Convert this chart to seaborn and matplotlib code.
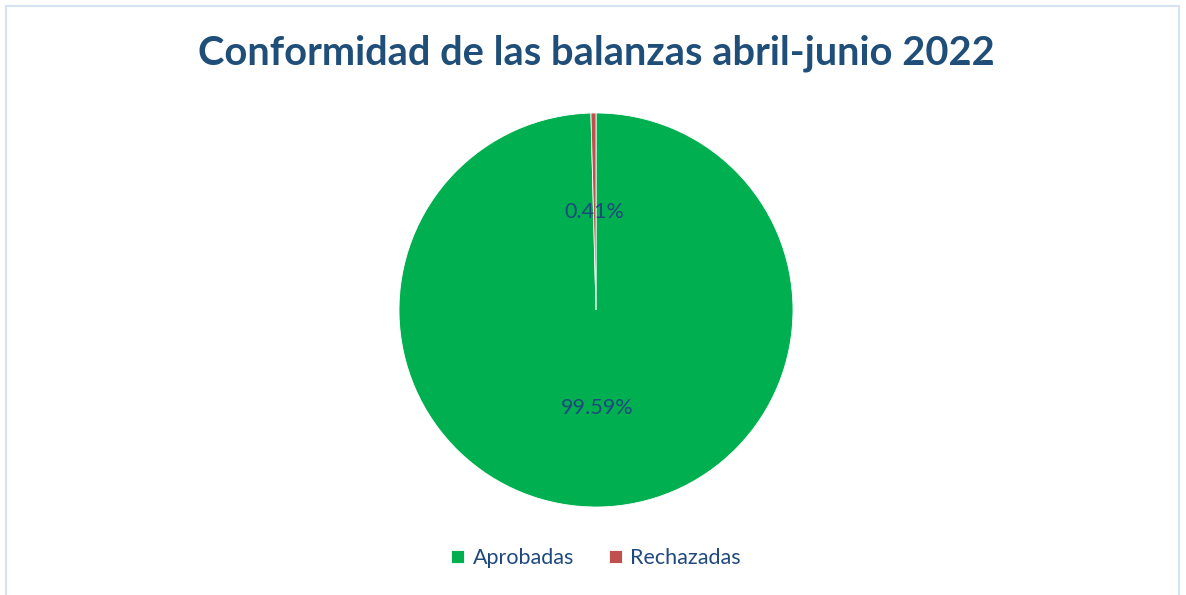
import matplotlib
matplotlib.use("Agg")
import matplotlib.pyplot as plt
import seaborn as sns
from matplotlib.patches import Rectangle

categories = ["Aprobadas", "Rechazadas"]
values = [99.59, 0.41]
colors = ["#00B050", "#C0504D"]
title = "Conformidad de las balanzas abril-junio 2022"

sns.set_theme(style="white")
plt.rcParams["font.family"] = ["Lato", "DejaVu Sans"]

W, H = 1186, 595
fig = plt.figure(figsize=(W / 100, H / 100), dpi=100)

# light frame like the Excel chart area
fig.add_artist(Rectangle((6 / W, -0.01), (W - 7) / W - 6 / W, 1.01 - 6 / H,
                         transform=fig.transFigure, fill=False,
                         edgecolor="#D6E3F3", linewidth=1.5))

r = 197
ax = fig.add_axes([(596 - r) / W, (H - 310 - r) / H, 2 * r / W, 2 * r / H])
wedges, _, autotexts = ax.pie(
    values, colors=colors, startangle=90, counterclock=False,
    autopct="%.2f%%", pctdistance=0.5,
    wedgeprops=dict(edgecolor="white", linewidth=0.6),
    textprops=dict(color="#1F497D", fontsize=15.5),
)
ax.set_aspect("equal")
ax.set_xlim(-1, 1)
ax.set_ylim(-1, 1)

fig.text(596 / W, 1 - 53 / H, title, ha="center", va="center",
         fontsize=28.7, fontweight="bold", color="#1F4E79")

fig.legend(wedges, categories, loc="center", bbox_to_anchor=(596 / W, 1 - 558 / H),
           ncol=2, frameon=False, fontsize=15.5, labelcolor="#1F497D",
           handlelength=0.6, handleheight=0.6, handletextpad=0.4, columnspacing=1.6)

fig.savefig("out.png", dpi=100)
